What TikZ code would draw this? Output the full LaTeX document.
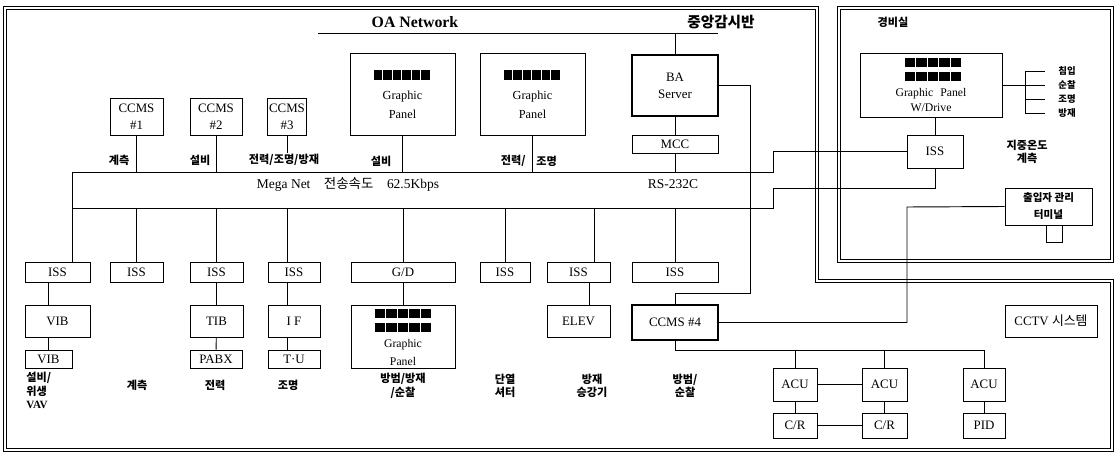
\documentclass[tikz,border=0pt]{standalone}
\usepackage{fontspec}
\setmainfont{Liberation Serif}
\newfontfamily\kr{Noto Sans CJK KR}
\usetikzlibrary{calc}
\def\boxat[#1](#2)(#3:#4:#5:#6)#7{\node[box,#1,minimum width={(#5-#3)*0.03cm},minimum height={(#6-#4)*0.03cm}] (#2) at ({(#3+#5)/2},{(#4+#6)/2}) {#7};}
\tikzset{
	box/.style={draw, line width=0.8pt, inner sep=1pt, align=center, font=\fontsize{11}{14.5}\selectfont},
	heavy/.style={line width=1.4pt},
	wire/.style={line width=0.8pt},
	frame/.style={double, double distance=1.8pt, line width=0.6pt},
	lab/.style={inner sep=1pt, align=center, font=\kr\bfseries\fontsize{9.5}{11.5}\selectfont},
	minilab/.style={lab, font=\kr\bfseries\fontsize{8}{9}\selectfont},
	gptext/.style={align=center, inner sep=0pt, font=\fontsize{10.5}{15}\selectfont}
}

\begin{document}
\begin{tikzpicture}[x=0.03cm, y=-0.03cm]
		%%%%% START %%%%%
		\useasboundingbox (0,0) rectangle (1115,454);
		
		\draw[frame] (5,8) -- (817,8) -- (817,281) -- (1112,281) -- (1112,450) -- (5,450) -- cycle;
		\draw[frame] (839,8) rectangle (1112,261);
		
		\node[font=\bfseries\fontsize{13.5}{15}\selectfont] (oa) at (415,22) {OA Network};
		\node[lab, font=\kr\bfseries\fontsize{12.5}{14}\selectfont] (cms) at (721,22) {중앙감시반};
		\node[lab] (grd) at (893,22) {경비실};
		
		% central panel
		\boxat[](ccms1)(110:98:163:135){CCMS\\\#1}
		\boxat[](ccms2)(190:98:242:135){CCMS\\\#2}
		\boxat[](ccms3)(268:98:306:135){CCMS\\\#3}
		\boxat[](gp1)(350:53:455:135){}
		\boxat[](gp2)(480:53:585:135){}
		\boxat[heavy](ba)(632:55:718:116){BA\\Server}
		\boxat[](mcc)(632:135:718:153){MCC}
		
		\foreach \n in {gp1,gp2}{
			\foreach \i in {0,...,5} \fill ($(\n.north west)+(24+\i*9.5,17)$) rectangle ++(8.5,10);
			\node[gptext, font=\fontsize{10.5}{16}\selectfont] (\n t) at ($(\n.center)+(0,11)$) {Graphic\\Panel};
		}
		
		\coordinate (oaL) at (318,33);
		\coordinate (oaR) at (718,33);
		\draw[wire] (oaL) -- (oaR);
		\draw[wire] (ba.north) -- (ba.north |- oaR);
		\draw[wire] (ba) -- (mcc);
		
		% guard room
		\boxat[](ggp)(860:53:1002:117){}
		\boxat[](giss)(907:135:963:168){ISS}
		\boxat[](term)(1005:188:1092:225){\kr\bfseries\fontsize{9}{12}\selectfont 출입자 관리\\\kr\bfseries\fontsize{9}{12}\selectfont 터미널}
		\foreach \r in {0,1}
			\foreach \i in {0,...,4} \fill ($(ggp.north west)+(45+\i*11.5,5+\r*14)$) rectangle ++(10.5,9);
		\node[gptext, font=\fontsize{10}{13}\selectfont] (ggpt) at ($(ggp.center)+(0,15)$) {Graphic\hspace{0.6em}Panel\\W/Drive};
		\draw[wire] (giss.north) -- (giss.north |- ggp.south);
		
		\foreach \t [count=\i] in {침입,순찰,조명,방재} \node[minilab] (l\i) at (1067,{57+14*\i}) {\t};
		\draw[wire] (ggp.east) -- ++(23,0) coordinate (brk);
		\draw[wire] (brk |- l1.west) -- (brk |- l4.west);
		\foreach \i in {1,...,4} \draw[wire] (brk |- l\i.west) -- ++(20,0);
		\node[lab] (geo) at (1027,152) {지중온도\\계측};
		\draw[wire] ($(term.south)+(-2,0)$) -- ++(0,17) -| ($(term.south)+(14,0)$);
		
		% Mega Net
		\coordinate (busT) at (72,172);
		\coordinate (busB) at (72,208);
		\coordinate (kT) at (773,172);
		\coordinate (kB) at (773,208);
		\node[lab] (u1) at (119,160) {계측};
		\node[lab] (u2) at (200,160) {설비};
		\node[lab] (u3) at (284,160) {전력/조명/방재};
		\node[lab] (u4) at (381,161) {설비};
		\node[lab, anchor=east] (u5) at (527,161) {전력/};
		\node[lab, anchor=west] (u6) at (535,161) {조명};
		\node[font=\fontsize{11.5}{13}\selectfont] (mega) at (348,184) {Mega Net\hspace{1em}{\kr 전송속도}\hspace{1em}62.5Kbps};
		\node[font=\fontsize{11.5}{13}\selectfont] (rs) at (673,184) {RS-232C};
		
		% field level
		\boxat[](iss1)(25:262:90:282){ISS}
		\boxat[](iss2)(110:262:163:282){ISS}
		\boxat[](iss3)(190:262:243:282){ISS}
		\boxat[](iss4)(268:262:320:282){ISS}
		\boxat[](gd)(351:262:455:282){G/D}
		\boxat[](iss5)(480:262:530:282){ISS}
		\boxat[](iss6)(547:262:610:282){ISS}
		\boxat[](iss7)(632:262:718:282){ISS}
		
		\boxat[](vib)(25:305:90:337){VIB}
		\boxat[](vib2)(25:350:72:368){VIB}
		\boxat[](tib)(190:305:243:337){TIB}
		\boxat[](pabx)(190:350:242:368){PABX}
		\boxat[](ifb)(268:305:320:337){I F}
		\boxat[](tu)(268:350:320:368){T·U}
		\boxat[](bgp)(351:305:455:368){}
		\boxat[](elev)(547:305:610:337){ELEV}
		\boxat[heavy](ccms4)(632:305:718:340){CCMS \#4}
		
		\foreach \r in {0,1}
			\foreach \i in {0,...,4} \fill ($(bgp.north west)+(24+\i*11.5,4+\r*14)$) rectangle ++(10.5,9);
		\node[gptext, font=\fontsize{10}{15}\selectfont] (bgpt) at ($(bgp.center)+(0,16)$) {Graphic\\Panel};
		
		\draw[wire] (iss1.north -| busT) -- (busT) -- (kT) |- (giss.west);
		\draw[wire] (busB) -- (kB) |- ($(giss.south)+(0,20)$) -- (giss.south);
		\foreach \n in {ccms1,ccms2,gp1,gp2,mcc} \draw[wire] (\n.south) -- (\n.south |- busT);
		\draw[wire] (ccms3.south) -- (ccms3.south |- u3.north);
		\foreach \n in {iss2,iss3,gd,iss5,iss7} \draw[wire] (\n.north) -- (\n.north |- busB);
		\draw[wire] (iss4.north -| ccms3) -- (ccms3 |- busB);
		\draw[wire] ($(iss6.north)+(16,0)$) coordinate (t6) -- (t6 |- busB);
		
		\draw[wire] (iss1.south -| vib2) -- (vib.north -| vib2);
		\draw[wire] (vib.south -| vib2) -- (vib2);
		\draw[wire] (iss3) -- (tib);
		\draw[wire] (tib) -- (pabx);
		\draw[wire] (iss4.south -| ccms3) -- (ifb.north -| ccms3);
		\draw[wire] (ifb.south -| ccms3) -- (tu.north -| ccms3);
		\draw[wire] (gd) -- (bgp);
		\draw[wire] ($(iss6.south)+(11,0)$) coordinate (t6b) -- (t6b |- elev.north);
		
		\node[lab, anchor=north west, align=left] (b1) at (25,371) {설비/\\위생\\{\rmfamily VAV}};
		\node[lab] (b2) at (137,385) {계측};
		\node[lab] (b3) at (215,385) {전력};
		\node[lab] (b4) at (288,385) {조명};
		\node[lab] (b5) at (403,386) {방범/방재\\/순찰};
		\node[lab] (b6) at (505,386) {단열\\셔터};
		\node[lab] (b7) at (592,386) {방재\\승강기};
		\node[lab] (b8) at (685,386) {방범/\\순찰};
		
		% access control
		\boxat[](cctv)(1005:305:1097:337){CCTV {\kr 시스템}}
		\boxat[](acu1)(773:368:817:401){ACU}
		\boxat[](acu2)(862:368:907:401){ACU}
		\boxat[](acu3)(963:368:1005:401){ACU}
		\boxat[](cr1)(773:413:817:438){C/R}
		\boxat[](cr2)(862:413:907:438){C/R}
		\boxat[](pid)(963:413:1005:438){PID}
		
		\coordinate (baR) at (750,293);
		\coordinate (tK) at (907,207);
		\draw[wire] (ba.east) -| (baR) -| (ccms4.north);
		\draw[wire] (ccms4.east) -| (tK) -- (term.west);
		\draw[wire] (ccms4.south) -- ++(0,10) coordinate (aBus) -| (acu3.north);
		\foreach \n in {acu1,acu2} \draw[wire] (\n.north) -- (\n.north |- aBus);
		\draw[wire] (acu1) -- (acu2);
		\draw[wire] (cr1) -- (cr2);
		\draw[wire] (acu1) -- (cr1);
		\draw[wire] (acu2) -- (cr2);
		\draw[wire] (acu3) -- (pid);
		
		%%%%% END %%%%%
\end{tikzpicture}
\end{document}
